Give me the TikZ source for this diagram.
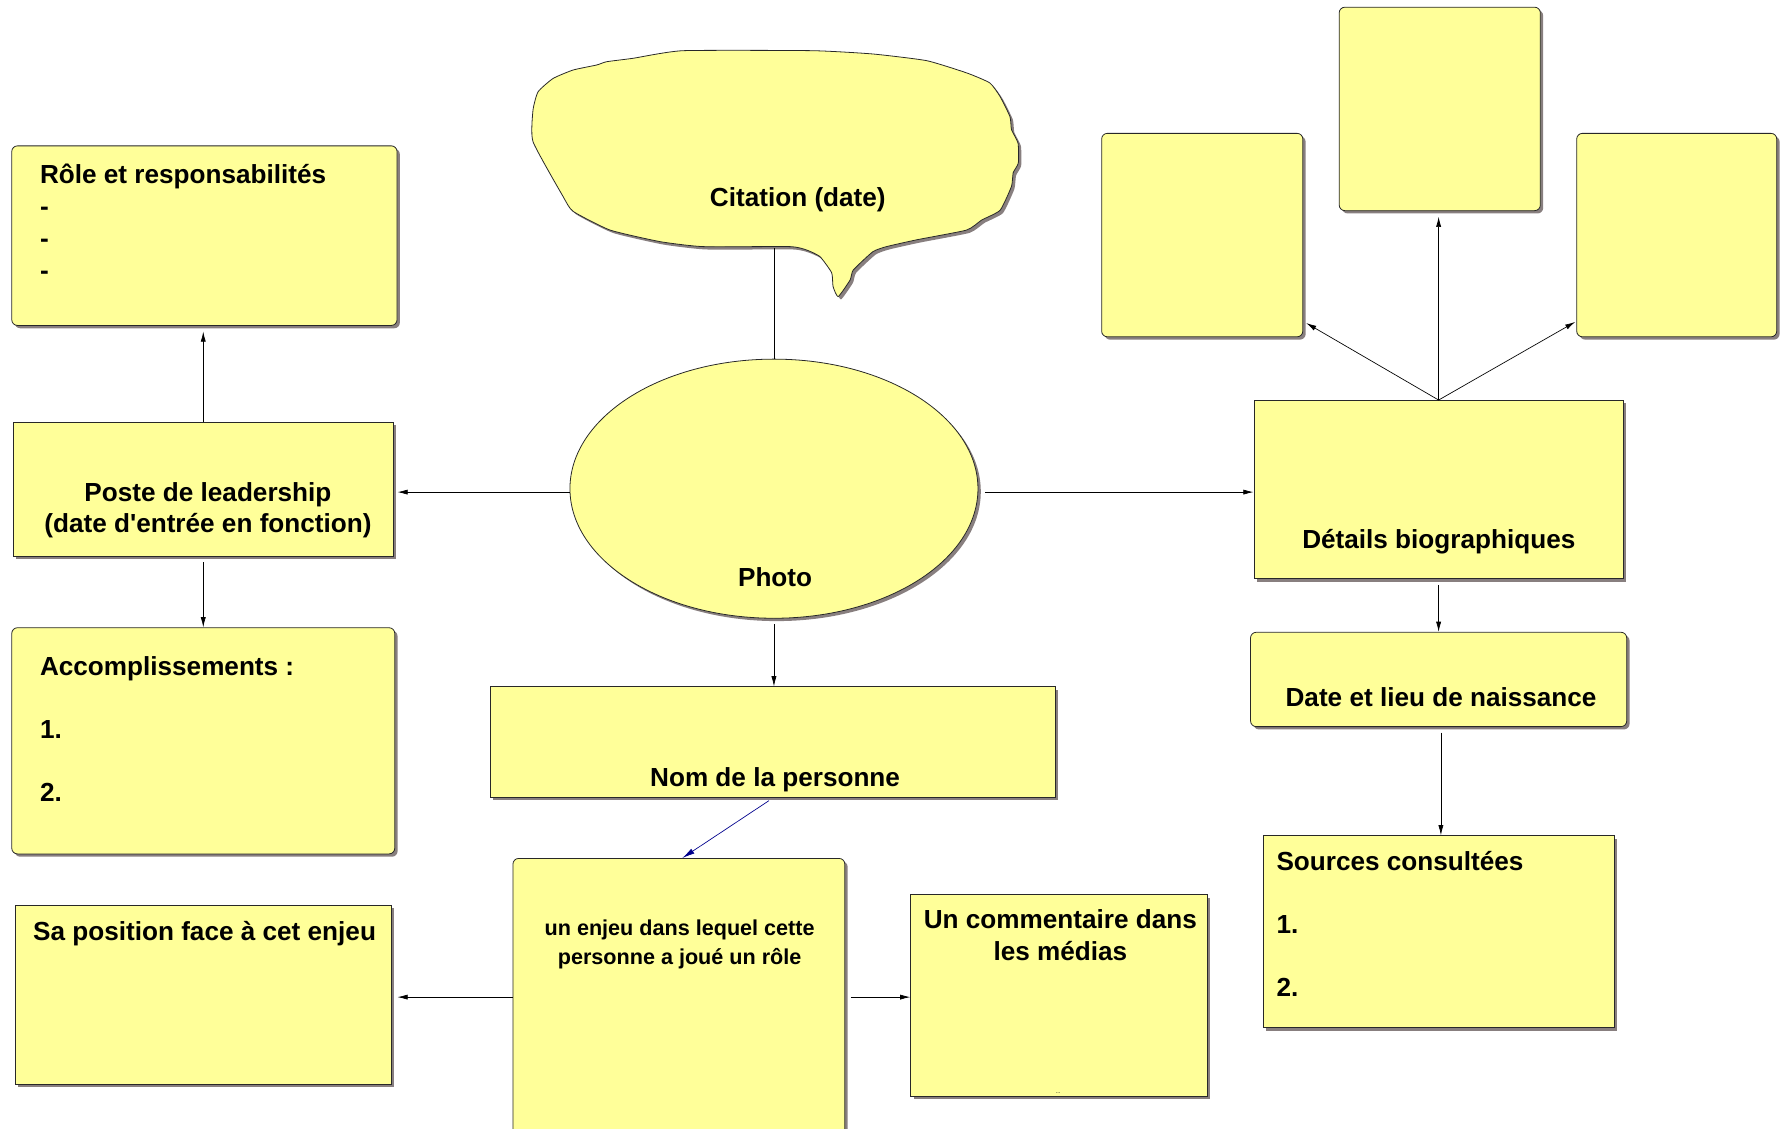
\documentclass[tikz,border=0pt]{standalone}
\usepackage{fontspec}
\setmainfont{Liberation Sans}[Ligatures=TeXOff]
\usetikzlibrary{shapes.geometric,shadows,arrows.meta}
\definecolor{pale}{RGB}{255,255,153}
\definecolor{edge}{RGB}{40,40,40}
\definecolor{shade}{RGB}{115,105,105}
\definecolor{navyarrow}{RGB}{0,0,140}
\begin{document}
\begin{tikzpicture}[x=1pt,y=-1pt,
  shad/.style={drop shadow={shadow xshift=2.5pt,shadow yshift=-2.5pt,fill=shade,opacity=0.85}},
  box/.style={draw=edge,fill=pale,line width=0.7pt,inner sep=0pt,anchor=north west,shad},
  rbox/.style={box,rounded corners=5pt},
  big/.style={font=\bfseries\fontsize{23}{28}\selectfont,inner sep=0pt},
  small/.style={font=\bfseries\fontsize{19}{25}\selectfont,inner sep=0pt},
  conn/.style={draw=black,line width=0.6pt},
  arr/.style={conn,-{Latex[length=9pt,width=4.5pt]}},
  barr/.style={draw=navyarrow,line width=0.6pt,-{Latex[length=11pt,width=5pt]}},
]
\useasboundingbox (0,0) rectangle (1568,993);

% cloud
\path[fill=pale,draw=edge,line width=0.7pt,shad] plot[smooth cycle,tension=0.3] coordinates {
(601,44.6) (715,44.6) (768,47.5) (815.5,53.4) (851,64.3) (871,73) (880,85) (888.7,102.7)
(890,114) (895.8,126) (896,143.5) (891.5,152) (890,164) (880,185) (863.8,193.6) (850.6,202.4)
(806.6,211) (780,217) (768,221.5) (750.8,237.6) (748,246.4) (737.5,261) (733,252) (731.8,240)
(721.5,225.8) (709.8,220) (695,217) (618.7,217) (580.7,212.6) (536.7,202.4) (504.3,186)
(495.5,173) (469,124.7) (469,96.8) (473.5,80.7) (486.7,69) (504.3,61.6) (525,57.2) (533.8,54.3) (557,51.3)};
\coordinate (cloudbase) at (681,218);
\node[big] (citT) at (702,176) {Citation (date)};

% boxes
\node[rbox,minimum width=339,minimum height=158] (role) at (10,128) {};
\node[box,minimum width=335,minimum height=118] (poste) at (11,371) {};
\node[rbox,minimum width=337,minimum height=199] (accomp) at (10,552) {};
\node[box,minimum width=331,minimum height=158] (position) at (13,796) {};
\node[ellipse,draw=edge,fill=pale,line width=0.7pt,inner sep=0pt,shad,minimum width=359,minimum height=228] (photo) at (681,430) {};
\node[box,minimum width=497,minimum height=97] (nom) at (431,604) {};
\node[rbox,minimum width=292,minimum height=250] (enjeu) at (451,755) {};
\node[box,minimum width=261,minimum height=177] (media) at (801,787) {};
\node[rbox,minimum width=177,minimum height=179] (bioA) at (969,117) {};
\node[rbox,minimum width=177,minimum height=179] (bioB) at (1178,6) {};
\node[rbox,minimum width=176,minimum height=179] (bioC) at (1387,117) {};
\node[box,minimum width=325,minimum height=157] (details) at (1103,352) {};
\node[rbox,minimum width=331,minimum height=83] (naissance) at (1100,556) {};
\node[box,minimum width=309,minimum height=169] (sources) at (1111,735) {};

% texts
\node[big,anchor=mid west] (roleT) at (35,159) {Rôle et responsabilités};
\node[big,anchor=mid west] (roleA) at (35,187) {-};
\node[big,anchor=mid west] (roleB) at (35,215) {-};
\node[big,anchor=mid west] (roleC) at (35,243) {-};
\node[big,align=center] (posteT) at (183,449) {Poste de leadership\\(date d'entrée en fonction)};
\node[big,anchor=mid west] (accT) at (35,592) {Accomplissements :};
\node[big,anchor=mid west] (acc1) at (35,647) {1.};
\node[big,anchor=mid west] (acc2) at (35,703) {2.};
\node[big,anchor=mid] (posT) at (180,825) {Sa position face à cet enjeu};
\node[big,anchor=mid] (photoT) at (682,513) {Photo};
\node[big,anchor=mid] (nomT) at (682,689) {Nom de la personne};
\node[small,align=center] (enjeuT) at (598,831) {un enjeu dans lequel cette\\personne a joué un rôle};
\node[big,align=center] (mediaT) at (933,823) {Un commentaire dans\\les médias};
\node[font=\fontsize{5}{5}\selectfont,inner sep=0pt] (mediaDots) at (931,962) {...};
\node[big,anchor=mid] (detT) at (1266,480) {Détails biographiques};
\node[big,anchor=mid] (naisT) at (1268,619) {Date et lieu de naissance};
\node[big,anchor=mid west] (srcT) at (1123,763) {Sources consultées};
\node[big,anchor=mid west] (src1) at (1123,819) {1.};
\node[big,anchor=mid west] (src2) at (1123,874) {2.};

% connectors
\draw[conn] (cloudbase) -- (cloudbase |- photo.north);
\draw[arr,shorten >=3pt] ([yshift=-3pt]photo.west) -- ([yshift=-3pt]photo.west -| poste.east);
\draw[arr,shorten <=6pt] ([yshift=-3pt]photo.east) -- ([yshift=-3pt]photo.east -| details.west);
\draw[arr,shorten >=5pt] (poste.north) -- (poste.north |- role.south);
\draw[arr,shorten <=5pt] (poste.south) -- (poste.south |- accomp.north);
\draw[arr,shorten <=5pt] (photo.south) -- (photo.south |- nom.north);
\draw[barr,shorten <=5pt] ([xshift=1pt]nom.south) -- ([xshift=3pt]enjeu.north);
\draw[arr,shorten >=5pt] ([yshift=3pt]enjeu.west) -- ([yshift=3pt]enjeu.west -| position.east);
\draw[arr,shorten <=5pt] ([yshift=3pt]enjeu.east) -- ([yshift=3pt]enjeu.east -| media.west);
\draw[arr,shorten >=3pt] (details.north) -- ([yshift=14pt]bioA.south east);
\draw[arr,shorten >=5pt] (details.north) -- (details.north |- bioB.south);
\draw[arr,shorten >=1pt] (details.north) -- ([yshift=14pt]bioC.south west);
\draw[arr,shorten <=5pt] (details.south) -- (details.south |- naissance.north);
\draw[arr,shorten <=5pt] ([xshift=2pt]naissance.south) -- ([xshift=2pt]naissance.south |- sources.north);
\end{tikzpicture}
\end{document}
